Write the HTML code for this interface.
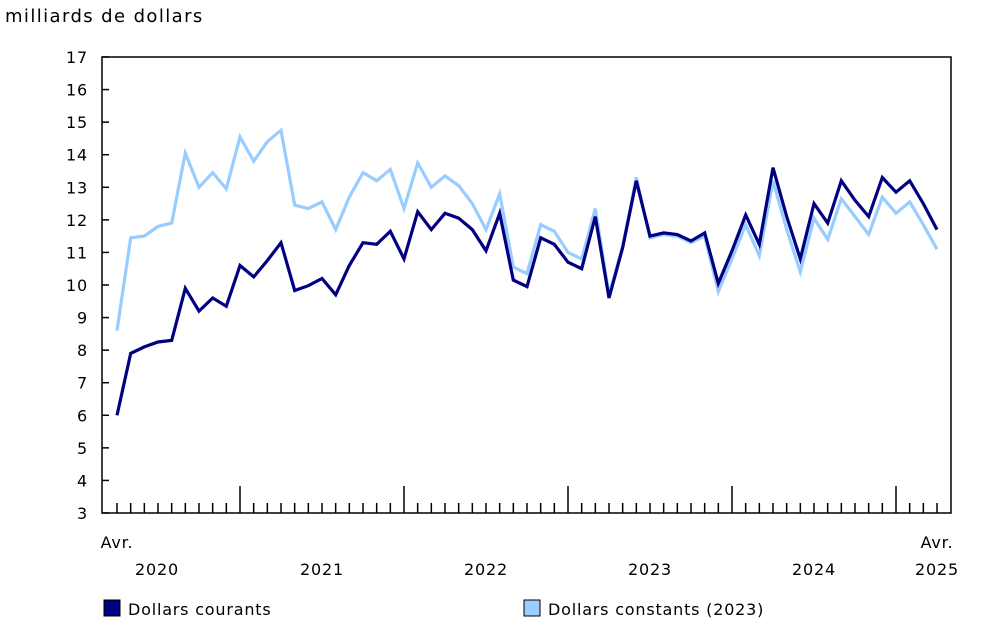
<!DOCTYPE html>
<html><head><meta charset="utf-8"><style>
body{margin:0;background:#fff;}
svg text{font-family:"DejaVu Sans","Liberation Sans",sans-serif;font-size:16px;fill:#000;letter-spacing:0.8px;}
</style></head><body>
<svg id="chart" width="997" height="636" xmlns="http://www.w3.org/2000/svg"></svg>
<script>
const yTicks=[3,4,5,6,7,8,9,10,11,12,13,14,15,16,17];
const yearLabels=["2020","2021","2022","2023","2024","2025"];
const courant=[6.0,7.9,8.1,8.25,8.3,9.9,9.2,9.6,9.35,10.6,10.25,10.75,11.3,9.83,9.98,10.2,9.7,10.6,11.3,11.25,11.65,10.8,12.25,11.7,12.2,12.05,11.7,11.05,12.2,10.15,9.95,11.45,11.25,10.7,10.5,12.1,9.6,11.15,13.2,11.5,11.6,11.55,11.35,11.6,10.05,11.05,12.15,11.25,13.6,12.1,10.8,12.5,11.9,13.2,12.6,12.1,13.3,12.85,13.2,12.5,11.7];
const constant=[8.6,11.45,11.5,11.8,11.9,14.05,13.0,13.45,12.95,14.55,13.8,14.4,14.75,12.45,12.35,12.55,11.7,12.7,13.45,13.2,13.55,12.35,13.75,13.0,13.35,13.05,12.5,11.7,12.8,10.55,10.35,11.85,11.65,11.0,10.8,12.35,9.7,11.2,13.3,11.45,11.55,11.5,11.3,11.5,9.8,10.8,11.85,10.9,13.2,11.7,10.4,12.05,11.4,12.65,12.1,11.55,12.7,12.2,12.55,11.85,11.1];

const svg=document.getElementById('chart');
const NS='http://www.w3.org/2000/svg';
const L=102,R=951,T=57,B=513;
const n=courant.length;
const x0=117,x1=937;
function xs(i){return x0+(x1-x0)*i/(n-1);}
function ys(v){return B-(v-3)/(17-3)*(B-T);}
function mk(tag,attrs,parent){const e=document.createElementNS(NS,tag);for(const k in attrs)e.setAttribute(k,attrs[k]);(parent||svg).appendChild(e);return e;}

const title=mk('text',{x:5,y:22});
title.textContent='milliards de dollars';


title.setAttribute('style','font-size:18px;letter-spacing:1.4px');

const frame=mk('rect',{x:L,y:T,width:R-L,height:B-T,fill:'none',stroke:'#000','stroke-width':1.5});



const yg=mk('g',{});


yTicks.forEach(v=>{
  const y=ys(v);
  mk('line',{x1:L,x2:L+7,y1:y,y2:y,stroke:'#000','stroke-width':1.5},yg);
  const t=mk('text',{x:L-14,y:y+6,'text-anchor':'end'},yg);
  t.textContent=v;
  
  
});

const xg=mk('g',{});


for(let i=0;i<n;i++){
  const x=xs(i);
  const major=((i+3)%12===0);
  mk('line',{x1:x,x2:x,y1:major?486:503,y2:B,stroke:'#000','stroke-width':1.5},xg);
}
const a1=mk('text',{x:xs(0),y:548,'text-anchor':'middle'},xg);a1.textContent='Avr.';

const a2=mk('text',{x:xs(n-1),y:548,'text-anchor':'middle'},xg);a2.textContent='Avr.';

const yearPos=[157,322,486,650,814,937];
yearLabels.forEach((lab,k)=>{
  const t=mk('text',{x:yearPos[k],y:575,'text-anchor':'middle'},xg);
  t.textContent=lab;
  
  
});

function line(data,color,name){
  const d=data.map((v,i)=>(i?'L':'M')+xs(i).toFixed(1)+','+ys(v).toFixed(1)).join('');
  const p=mk('path',{d:d,fill:'none',stroke:color,'stroke-width':3.2,'stroke-linejoin':'miter'});
  
  
}
line(constant,'#99ccff','series-dollars-constants');
line(courant,'#000080','series-dollars-courants');

function legend(x,color,label,name){
  const g=mk('g',{});
  
  
  mk('rect',{x:x,y:600,width:16,height:16,fill:color,stroke:'#000','stroke-width':1},g);
  const t=mk('text',{x:x+24,y:615},g);t.textContent=label;
}
legend(104,'#000080','Dollars courants','legend-dollars-courants');
legend(524,'#99ccff','Dollars constants (2023)','legend-dollars-constants');
</script>
</body></html>
